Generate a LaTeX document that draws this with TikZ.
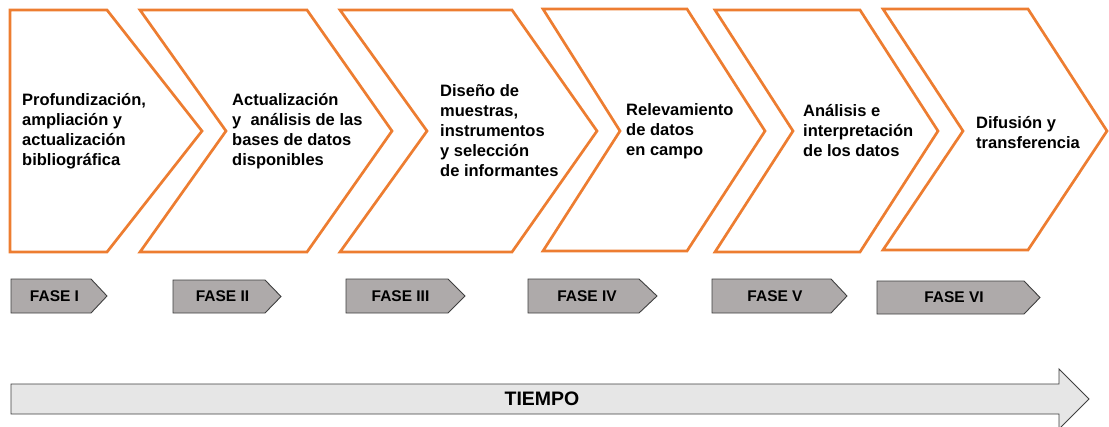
\documentclass[tikz,border=0pt]{standalone}
\usepackage{fontspec}
\setmainfont{Liberation Sans}
\definecolor{chevronorange}{HTML}{ED7D31}
\definecolor{fasefill}{HTML}{AEAAAA}
\definecolor{faseline}{HTML}{3F3F3F}
\definecolor{tiempofill}{HTML}{E6E6E6}

\begin{document}
\begin{tikzpicture}[x=1pt, y=-1pt,
    chevron/.style = {draw=chevronorange, line width=2.7pt, fill=white, line join=miter},
    phasetext/.style = {anchor=west, align=left, inner sep=0pt,
      font=\bfseries\fontsize{16.5}{20}\selectfont},
    fasebox/.style = {draw=faseline, line width=0.9pt, fill=fasefill},
    faselabel/.style = {inner sep=0pt, font=\bfseries\fontsize{15.5}{18}\selectfont},
  ]
  \useasboundingbox (0,0) rectangle (1109,426);

  % chevrons of the six phases
  \draw[chevron] (10,10) -- (107,10) -- (202,131) -- (107,252) -- (10,252) -- cycle;
  \draw[chevron] (140,10) -- (307,10) -- (392,131) -- (307,252) -- (140,252) -- (226,131) -- cycle;
  \draw[chevron] (340,10) -- (512,10) -- (597,131) -- (512,252) -- (340,252) -- (427,131) -- cycle;
  \draw[chevron] (543,9) -- (687,9) -- (765,131) -- (687,251) -- (543,251) -- (620,131) -- cycle;
  \draw[chevron] (715,10) -- (860,10) -- (938,131) -- (860,252) -- (715,252) -- (793,131) -- cycle;
  \draw[chevron] (883,9) -- (1028,9) -- (1107,131) -- (1028,250) -- (883,250) -- (963,131) -- cycle;

  \node[phasetext] (profundizacion) at (22,131)
    {Profundización,\\ampliación y\\actualización\\bibliográfica};
  \node[phasetext] (actualizacion) at (232,131)
    {Actualización\\y\ \ análisis de las\\bases de datos\\disponibles};
  \node[phasetext] (diseno) at (440,131)
    {Diseño de\\muestras,\\instrumentos\\y selección\\de informantes};
  \node[phasetext] (relevamiento) at (626,131)
    {Relevamiento\\de datos\\en campo};
  \node[phasetext] (analisis) at (803,131)
    {Análisis e\\interpretación\\de los datos};
  \node[phasetext] (difusion) at (976,133)
    {Difusión y\\transferencia};

  % phase tags
  \draw[fasebox] (11,279) -- (91,279) -- (107,296) -- (91,313) -- (11,313) -- cycle;
  \draw[fasebox] (173,280) -- (265,280) -- (281,296.5) -- (265,313) -- (173,313) -- cycle;
  \draw[fasebox] (346,279) -- (448,279) -- (465,296) -- (448,313) -- (346,313) -- cycle;
  \draw[fasebox] (528,279) -- (639,279) -- (657,296) -- (639,313) -- (528,313) -- cycle;
  \draw[fasebox] (712,279) -- (831,279) -- (847,296) -- (831,313) -- (712,313) -- cycle;
  \draw[fasebox] (877,281) -- (1024,281) -- (1040,297.5) -- (1024,314) -- (877,314) -- cycle;

  \node[faselabel] (fase1) at (54.5,296) {FASE I};
  \node[faselabel] (fase2) at (222.5,296.5) {FASE II};
  \node[faselabel] (fase3) at (400.5,296) {FASE III};
  \node[faselabel] (fase4) at (587,296) {FASE IV};
  \node[faselabel] (fase5) at (775,296) {FASE V};
  \node[faselabel] (fase6) at (954,297.5) {FASE VI};

  % time arrow
  \draw[draw=faseline, line width=0.9pt, fill=tiempofill]
    (11,384) -- (1059,384) -- (1059,369) -- (1089,399) -- (1059,429)
    -- (1059,414) -- (11,414) -- cycle;
  \node[inner sep=0pt, font=\bfseries\fontsize{19.5}{22}\selectfont] (tiempo) at (542,399) {TIEMPO};
\end{tikzpicture}
\end{document}
